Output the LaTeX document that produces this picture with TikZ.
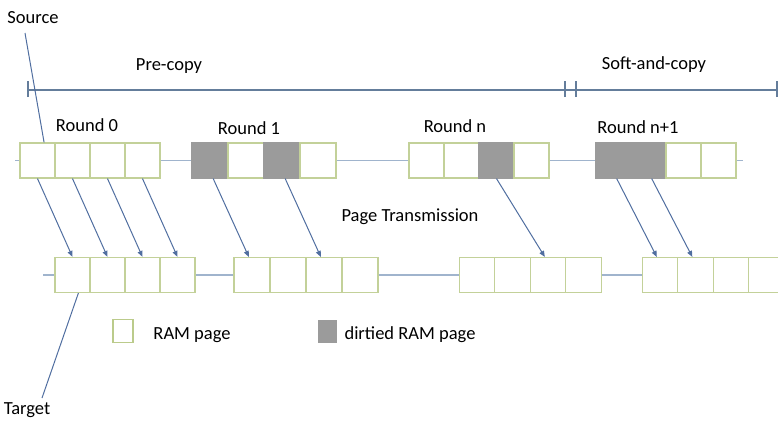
\documentclass[tikz,border=0pt]{standalone}
\usepackage{fontspec}
\setmainfont{Carlito}
\usetikzlibrary{arrows.meta}
\definecolor{pageline}{RGB}{170,190,110}
\definecolor{pagegray}{RGB}{155,155,155}
\definecolor{rowline}{RGB}{160,180,205}
\definecolor{axisline}{RGB}{100,125,155}
\definecolor{sendline}{RGB}{80,110,160}
\begin{document}
\begin{tikzpicture}[x=1pt,y=-1pt,
  txt/.style={font=\fontsize{18.5}{22}\selectfont},
  cell/.style={draw=pageline!70,line width=1.2pt,fill=white,minimum width=#1,minimum height=35pt,inner sep=0pt},
  cell/.default=35pt,
  dirty/.style={fill=pagegray,draw=pagegray},
  wire/.style={draw=rowline,line width=1.8pt},
  send/.style={draw=sendline,line width=1pt,-{Triangle[length=6pt,width=5pt]}},
  lead/.style={draw=sendline,line width=1pt}]
\useasboundingbox (0,0) rectangle (778,424);

\node[txt] (src) at (33,18) {Source};
\node[txt] (tgt) at (27,410) {Target};
\node[txt] (pre) at (169,66) {Pre-copy};
\node[txt] (soft) at (654,65) {Soft-and-copy};

\coordinate (t0) at (28,90);
\coordinate (t1) at (565,90);
\coordinate (t2) at (576,90);
\coordinate (t3) at (777,90);
\draw[axisline,line width=1.3pt] (t0) -- (t3);
\draw[axisline,line width=1.3pt] ([yshift=-7pt]t0) -- ([yshift=9pt]t0);
\draw[axisline,line width=1.3pt] ([yshift=-7pt]t1) -- ([yshift=9pt]t1);
\draw[axisline,line width=1.3pt] ([yshift=-7pt]t2) -- ([yshift=9pt]t2);
\draw[axisline,line width=1.3pt] ([yshift=-7pt]t3) -- ([yshift=9pt]t3);

\node[txt] (r0) at (87,125) {Round 0};
\node[txt] (r1) at (249,128) {Round 1};
\node[txt] (rn) at (455,126) {Round n};
\node[txt] (rm) at (638,127) {Round n+1};

\coordinate (top0) at (15,160.5);
\coordinate (top1) at (743,160.5);
\coordinate (bot0) at (43,275);

\node[cell] (a1) at (37.5,160.5) {};
\node[cell] (a2) at (72.5,160.5) {};
\node[cell] (a3) at (107.5,160.5) {};
\node[cell] (a4) at (142.5,160.5) {};

\node[cell=36pt,dirty] (b1) at (210,160.5) {};
\node[cell=36pt] (b2) at (246,160.5) {};
\node[cell=36pt,dirty] (b3) at (282,160.5) {};
\node[cell=36pt] (b4) at (318,160.5) {};

\node[cell] (c1) at (426.5,160.5) {};
\node[cell] (c2) at (461.5,160.5) {};
\node[cell,dirty] (c3) at (496.5,160.5) {};
\node[cell] (c4) at (531.5,160.5) {};

\node[cell,dirty] (d1) at (613.5,160.5) {};
\node[cell,dirty] (d2) at (648.5,160.5) {};
\node[cell] (d3) at (683.5,160.5) {};
\node[cell] (d4) at (718.5,160.5) {};

\draw[wire] (top0) -- (a1.west);
\draw[wire] (a4.east) -- (b1.west);
\draw[wire] (b4.east) -- (c1.west);
\draw[wire] (c4.east) -- (d1.west);
\draw[wire] (d4.east) -- (top1);

\node[txt] (tx) at (410,217) {Page Transmission};

\node[cell] (p1) at (72.5,275) {};
\node[cell] (p2) at (107.5,275) {};
\node[cell] (p3) at (142.5,275) {};
\node[cell] (p4) at (177.5,275) {};

\node[cell=36pt] (q1) at (252,275) {};
\node[cell=36pt] (q2) at (288,275) {};
\node[cell=36pt] (q3) at (324,275) {};
\node[cell=36pt] (q4) at (360,275) {};

\node[cell=35.5pt] (s1) at (477,275) {};
\node[cell=35.5pt] (s2) at (512.5,275) {};
\node[cell=35.5pt] (s3) at (548,275) {};
\node[cell=35.5pt] (s4) at (583.5,275) {};

\node[cell=35.5pt] (u1) at (660,275) {};
\node[cell=35.5pt] (u2) at (695.5,275) {};
\node[cell=35.5pt] (u3) at (731,275) {};
\node[cell=35.5pt] (u4) at (766.5,275) {};

\draw[wire] (bot0) -- (p1.west);
\draw[wire] (p4.east) -- (q1.west);
\draw[wire] (q4.east) -- (s1.west);
\draw[wire] (s4.east) -- (u1.west);

\draw[send] (a1.south) -- (p1.north);
\draw[send] (a2.south) -- (p2.north);
\draw[send] (a3.south) -- (p3.north);
\draw[send] (a4.south) -- (p4.north);
\draw[send] (b1.-80) -- (q1.100);
\draw[send] (b3.-80) -- (q3.100);
\draw[send] (c3.south) -- (s3.100);
\draw[send] (d1.-80) -- (u1.100);
\draw[send] (d2.-80) -- (u2.100);

\coordinate (srctip) at (25,33);
\coordinate (tgttip) at (42,398);
\draw[lead] (srctip) -- (a1.70);
\draw[lead] (tgttip) -- (p1.-72);

\node[draw=pageline!80,line width=1.1pt,minimum width=20pt,minimum height=23pt,inner sep=0pt] (k1) at (123,331) {};
\node[txt] (k1t) at (192,335) {RAM page};
\node[fill=pagegray,minimum width=19pt,minimum height=23pt,inner sep=0pt] (k2) at (327,331) {};
\node[txt] (k2t) at (410,335) {dirtied RAM page};
\end{tikzpicture}
\end{document}
